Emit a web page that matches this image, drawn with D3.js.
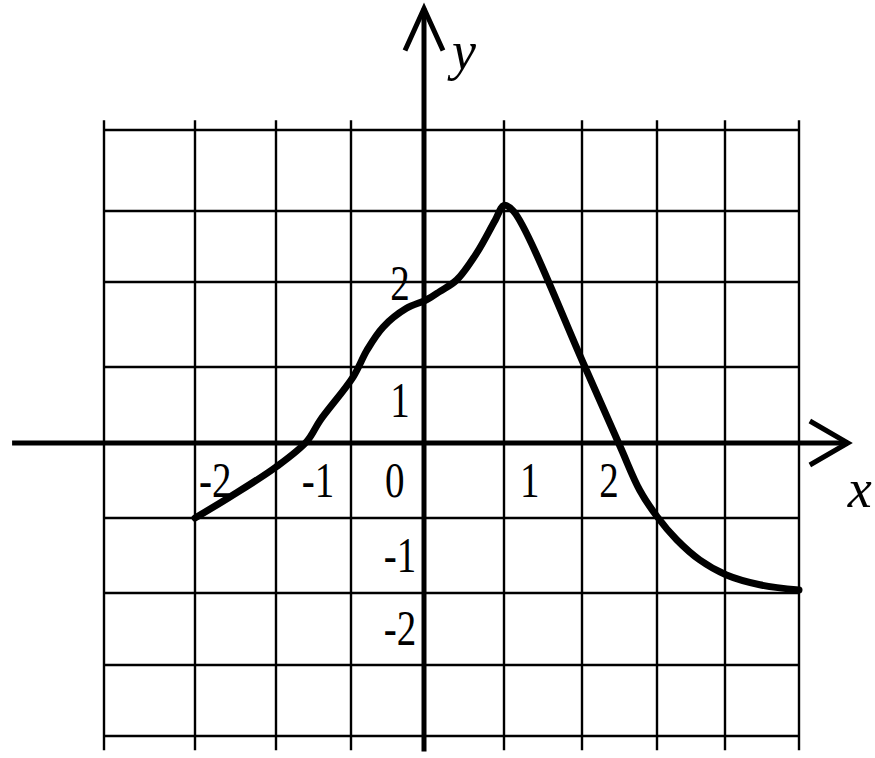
<!DOCTYPE html>
<html>
<head>
<meta charset="utf-8">
<script src="https://cdn.jsdelivr.net/npm/d3@7"></script>
<style>
  body { margin: 0; background: #fff; }
  svg { display: block; }
  .grid line { stroke: #000; stroke-width: 2.4; }
  .axis { stroke: #000; stroke-width: 5; fill: none; stroke-linecap: butt; }
  .arrow { stroke: #000; stroke-width: 5; fill: none; stroke-linejoin: miter; }
  .curve { stroke: #000; stroke-width: 7; fill: none; stroke-linecap: round; stroke-linejoin: round; }
  .tick { font-family: "Liberation Serif", "DejaVu Serif", serif; font-size: 50px; fill: #000; }
  .title { font-family: "Liberation Serif", serif; font-style: italic; font-size: 54px; fill: #000; }
</style>
</head>
<body>
<svg id="chart"></svg>
<script>
// grid cells (one unit per cell)
const gridX = d3.range(-4, 6);
const gridY = d3.range(-4, 5);

// tick labels and where they sit (in grid units)
const xTickLabels = ["-2", "-1", "0", "1", "2"];
const xTickAt = [-2.75, -1.44, -0.4, 1.33, 2.36];
const yTickLabels = ["2", "1", "-1", "-2"];
const yTickAt = [1.79, 0.34, -1.72, -2.72];

// the curve in grid units
const curveX = [-3, -2.57, -2, -1.59, -1.41, -0.97, -0.78, -0.56, -0.24, 0.03, 0.2, 0.41, 0.66, 0.89, 1.0, 1.12, 2.04, 2.51, 2.77, 3.0, 3.29, 3.63, 4.02, 4.47, 5.0];
const curveY = [-1, -0.72, -0.32, 0.02, 0.3, 0.87, 1.2, 1.47, 1.69, 1.79, 1.89, 2.03, 2.41, 2.87, 3.07, 3.0, 1.0, -0.05, -0.63, -0.98, -1.29, -1.56, -1.76, -1.89, -1.96];

const W = 875, H = 758;
const svg = d3.select("#chart").attr("width", W).attr("height", H);

// hand-drawn grid: cell edges are not evenly spaced, so use piecewise scales
const x = d3.scaleLinear().domain(gridX).range([104, 195, 276, 351, 424, 504, 582, 657, 725, 799]);
const y = d3.scaleLinear().domain(gridY).range([736, 665, 593, 518, 443, 367, 282, 211, 130]);

const grid = svg.append("g").attr("class", "grid");
grid.selectAll(".v").data(gridX.filter(d => d !== 0)).enter()
  .append("line").attr("class", "v")
  .attr("x1", d => x(d)).attr("x2", d => x(d))
  .attr("y1", y(4.12)).attr("y2", y(-4.2));
grid.selectAll(".h").data(gridY.filter(d => d !== 0)).enter()
  .append("line").attr("class", "h")
  .attr("x1", x(-4)).attr("x2", x(5))
  .attr("y1", d => y(d)).attr("y2", d => y(d));

// axes with open arrow heads
const xEnd = 5.66, yEnd = 5.5;
svg.append("line").attr("class", "axis")
  .attr("x1", x(-5.01)).attr("x2", x(xEnd)).attr("y1", y(0)).attr("y2", y(0));
svg.append("line").attr("class", "axis")
  .attr("x1", x(0)).attr("x2", x(0)).attr("y1", y(-4.22)).attr("y2", y(yEnd));

svg.append("path").attr("class", "arrow")
  .attr("d", `M${x(xEnd) - 38},${y(0) - 22}L${x(xEnd)},${y(0)}L${x(xEnd) - 38},${y(0) + 22}`);
svg.append("path").attr("class", "arrow")
  .attr("d", `M${x(0) - 19},${y(yEnd) + 42}L${x(0)},${y(yEnd)}L${x(0) + 19},${y(yEnd) + 42}`);

// curve
const line = d3.line().x(d => x(d[0])).y(d => y(d[1])).curve(d3.curveCatmullRom.alpha(0.5));
svg.append("path").attr("class", "curve")
  .attr("d", line(d3.zip(curveX, curveY)));

// tick labels (narrow serif digits)
svg.selectAll(".xt").data(xTickLabels).enter()
  .append("text").attr("class", "tick")
  .attr("text-anchor", "middle")
  .attr("transform", (d, i) => `translate(${x(xTickAt[i])},${y(0) + 54}) scale(0.78,1)`)
  .text(d => d);
svg.selectAll(".yt").data(yTickLabels).enter()
  .append("text").attr("class", "tick")
  .attr("text-anchor", "middle")
  .attr("transform", (d, i) => `translate(${x(0) - 24},${y(yTickAt[i])}) scale(0.78,1)`)
  .text(d => d);

// axis names
svg.append("text").attr("class", "title").attr("x", x(0.35)).attr("y", y(4.75)).text("y");
svg.append("text").attr("class", "title").attr("x", x(xEnd)).attr("y", y(-0.85)).text("x");
</script>
</body>
</html>
